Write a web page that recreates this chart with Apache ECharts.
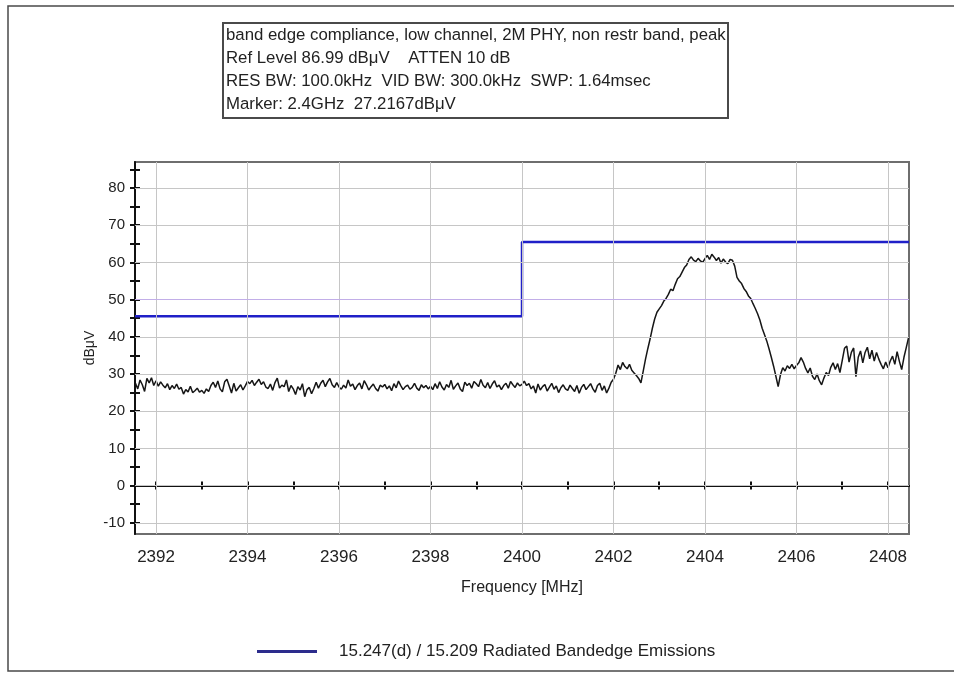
<!DOCTYPE html>
<html>
<head>
<meta charset="utf-8">
<script src="https://cdn.jsdelivr.net/npm/echarts@6/dist/echarts.min.js"></script>
<style>
html,body{margin:0;padding:0;background:#fff;}
#chart{width:954px;height:675px;}
</style>
</head>
<body>
<div id="chart"></div>
<script>
// ---- data ----
var headerLines = [
  'band edge compliance, low channel, 2M PHY, non restr band, peak',
  'Ref Level 86.99 dB\u03bcV    ATTEN 10 dB',
  'RES BW: 100.0kHz  VID BW: 300.0kHz  SWP: 1.64msec',
  'Marker: 2.4GHz  27.2167dB\u03bcV'
];
var xMin = 2391.54, xMax = 2408.46;
var yMin = -13.01, yMax = 86.99;
var xTickLabels = [2392, 2394, 2396, 2398, 2400, 2402, 2404, 2406, 2408];
var xMinorTicks = [2392, 2393, 2394, 2395, 2396, 2397, 2398, 2399, 2400, 2401, 2402, 2403, 2404, 2405, 2406, 2407, 2408];
var yTickLabels = [-10, 0, 10, 20, 30, 40, 50, 60, 70, 80];
var yTicks = [-10, -5, 0, 5, 10, 15, 20, 25, 30, 35, 40, 45, 50, 55, 60, 65, 70, 75, 80, 85];

var limitName = '15.247(d) / 15.209 Radiated Bandedge Emissions';
var limitFreq = [2391.54, 2400, 2400, 2408.46];
var limitDb = [45.5, 45.5, 65.5, 65.5];
var refLine50 = 50;

var traceStart = 2391.55, traceStep = 0.05;
var traceDb = [
  27.5, 26.0, 28.4, 27.1, 25.3, 28.8, 27.6, 29.0, 26.9,
  28.2, 26.7, 27.9, 27.0, 26.3, 27.4, 25.8, 26.9, 26.1, 27.3, 25.9, 26.4, 24.6, 25.8, 25.2, 26.7, 25.0, 25.5, 26.2, 25.1,
  25.6, 24.8, 26.0, 25.3, 26.9, 27.8, 26.4, 28.1, 26.0, 25.2, 27.9, 28.6, 26.8, 24.9, 27.5, 25.4, 26.3, 27.1, 25.7, 26.8,
  28.0, 27.4, 28.3, 26.9, 27.8, 28.6, 27.2, 27.9, 26.5, 26.1, 27.3, 25.6, 27.7, 28.9, 26.2, 27.0, 26.6, 28.4, 25.3, 26.9,
  26.0, 24.5, 26.6, 25.7, 27.4, 23.9, 25.8, 26.4, 24.7, 26.1, 27.8, 26.2, 27.5, 28.3, 26.6, 27.9, 28.8, 27.1, 26.4, 27.7,
  26.5, 25.9, 27.0, 26.2, 28.4, 26.7, 27.3, 25.8, 26.9, 27.6, 26.0, 28.2, 27.1, 25.7, 26.6, 27.3, 26.1, 25.4, 27.0, 26.5,
  27.2, 26.0, 26.8, 25.5, 27.4, 26.3, 28.1, 26.9, 25.8, 26.6, 27.0, 25.9, 26.4, 27.5, 26.2, 25.6, 27.1, 26.3, 26.9, 26.0,
  26.7, 25.8, 27.4, 26.1, 27.9, 26.5, 25.7, 27.2, 26.4, 28.3, 25.9, 26.8, 27.6, 26.0, 25.3, 27.8, 26.9, 27.5, 26.2, 28.0,
  27.4, 26.6, 28.5, 27.0, 26.3, 27.7, 26.1, 27.3, 28.2, 26.5, 27.0, 25.8, 26.9, 27.5, 26.2, 28.0, 27.1, 26.4, 27.6, 26.8,
  27.2, 28.1, 26.9, 27.4, 26.0, 26.8, 24.9, 27.3, 25.7, 26.6, 27.2, 25.4, 26.5, 27.5, 25.9, 26.8, 25.0, 26.3, 27.1, 26.0,
  25.6, 27.0, 26.1, 25.3, 26.9, 24.8, 26.4, 27.2, 25.8, 26.6, 27.4, 26.0, 25.1, 26.9, 27.5, 25.6, 26.8, 24.9, 26.2, 27.8,
  28.6, 30.2, 32.4, 31.2, 33.1, 32.0, 31.4, 32.6, 31.0, 30.3, 29.6, 28.8, 27.6, 30.8, 34.0, 36.8, 39.4, 42.3, 44.8, 46.6,
  47.5, 48.4, 49.6, 50.3, 51.4, 52.8, 52.4, 54.1, 55.6, 56.2, 57.4, 58.6, 59.3, 60.8, 61.5, 60.6, 60.2, 61.1, 60.4, 60.0,
  61.0, 61.9, 60.8, 62.2, 61.4, 60.5, 61.3, 59.8, 60.9, 60.1, 59.7, 60.8, 60.6, 59.0, 56.0, 55.0, 54.3, 53.0, 52.2, 51.0,
  50.3, 48.9, 47.6, 46.2, 44.5, 42.3, 40.6, 38.9, 36.8, 34.5, 32.1, 29.4, 26.6, 29.8, 31.7, 30.8, 32.2, 31.5, 32.6, 31.4,
  32.3, 33.0, 34.4, 33.2, 31.5, 30.3, 31.6, 29.4, 28.5, 30.0, 28.2, 27.1, 28.9, 30.4, 29.6, 31.8, 33.0, 31.2, 32.8, 30.4,
  33.6, 36.9, 37.5, 33.2, 35.8, 37.0, 29.3, 34.5, 36.2, 33.0, 35.8, 37.2, 34.1, 36.4, 33.5, 35.8, 34.0, 32.6, 31.4, 33.2,
  31.7, 33.5, 34.8, 32.6, 36.0, 33.4, 31.2, 34.5, 37.1, 39.8
];

// ---- build ----
var traceData = traceDb.map(function (v, i) { return [+(traceStart + i * traceStep).toFixed(3), v]; });
var limitData = limitFreq.map(function (f, i) { return [f, limitDb[i]]; });
var gridMarks = [];
yTickLabels.forEach(function (v) { gridMarks.push({ yAxis: v }); });
xTickLabels.forEach(function (v) { gridMarks.push({ xAxis: v }); });

var FONT = '"Liberation Sans", Arial, sans-serif';
var chart = echarts.init(document.getElementById('chart'), null, { renderer: 'canvas' });

var baseX = { type: 'value', min: xMin, max: xMax, gridIndex: 0, splitLine: { show: false } };
var baseY = { type: 'value', min: yMin, max: yMax, gridIndex: 0, splitLine: { show: false } };

chart.setOption({
  animation: false,
  backgroundColor: '#ffffff',
  textStyle: { fontFamily: FONT },
  grid: { left: 135, right: 45, top: 162, bottom: 141, show: true, backgroundColor: 'transparent', borderColor: '#6e6e6e', borderWidth: 2 },
  graphic: [
    { type: 'rect', z: -10, shape: { x: 8, y: 6, width: 960, height: 665 }, style: { fill: 'none', stroke: '#4a4a4a', lineWidth: 1.5 } },
    { type: 'rect', shape: { x: 223, y: 23, width: 505, height: 95 }, style: { fill: '#ffffff', stroke: '#4a4a4a', lineWidth: 2 } },
    { type: 'text', x: 226, y: 24, style: { text: headerLines.join('\n'), font: '16.8px ' + FONT, fill: '#222', lineHeight: 23, verticalAlign: 'top' } }
  ],
  legend: {
    data: [limitName], left: 252, top: 638, itemWidth: 60, itemHeight: 3, icon: 'rect',
    itemStyle: { color: '#2c2c8c' },
    textStyle: { fontSize: 17, color: '#222', fontFamily: FONT, padding: [0, 0, 0, 17] }
  },
  xAxis: [
    Object.assign({}, baseX, {
      position: 'bottom', name: 'Frequency [MHz]', nameLocation: 'middle', nameGap: 46,
      nameTextStyle: { fontSize: 16, color: '#222', fontFamily: FONT },
      axisLine: { show: false, onZero: false },
      axisTick: { show: false },
      axisLabel: { customValues: xTickLabels, fontSize: 17, color: '#222', margin: 15, fontFamily: FONT,
        formatter: function (v) { return String(Math.round(v)); } }
    }),
    Object.assign({}, baseX, {
      axisLine: { show: true, onZero: true, onZeroAxisIndex: 0, lineStyle: { color: '#111', width: 2 } },
      axisTick: { show: true, customValues: xMinorTicks, length: 4, inside: false, lineStyle: { color: '#111', width: 2 } },
      axisLabel: { show: false }
    }),
    Object.assign({}, baseX, {
      axisLine: { show: true, onZero: true, onZeroAxisIndex: 0, lineStyle: { color: '#111', width: 2 } },
      axisTick: { show: true, customValues: xMinorTicks, length: 4, inside: true, lineStyle: { color: '#111', width: 2 } },
      axisLabel: { show: false }
    })
  ],
  yAxis: [
    Object.assign({}, baseY, {
      position: 'left', name: 'dB\u03bcV', nameLocation: 'middle', nameGap: 38, nameMoveOverlap: false,
      nameTextStyle: { fontSize: 14, color: '#222', fontFamily: FONT },
      axisLine: { show: true, onZero: false, lineStyle: { color: '#111', width: 2 } },
      axisTick: { show: true, customValues: yTicks, length: 5, lineStyle: { color: '#111', width: 2 } },
      axisLabel: { customValues: yTickLabels, fontSize: 15, color: '#222', margin: 10, fontFamily: FONT }
    }),
    Object.assign({}, baseY, {
      position: 'left',
      axisLine: { show: false, onZero: false },
      axisTick: { show: true, customValues: yTicks, length: 5, inside: true, lineStyle: { color: '#111', width: 2 } },
      axisLabel: { show: false }
    })
  ],
  series: [
    {
      name: 'gridlines', type: 'line', data: [], z: -1, silent: true,
      xAxisIndex: 0, yAxisIndex: 0,
      markLine: {
        silent: true, symbol: 'none', label: { show: false },
        lineStyle: { color: '#c6c6c6', width: 1, type: 'solid' },
        data: gridMarks.concat([{ yAxis: refLine50, lineStyle: { color: '#c2aee8', width: 1, type: 'solid' } }])
      }
    },
    {
      name: 'trace', type: 'line', data: traceData, xAxisIndex: 0, yAxisIndex: 0,
      symbol: 'none', z: 3, lineStyle: { color: '#161616', width: 1.5 }
    },
    {
      name: limitName, type: 'line', data: limitData, xAxisIndex: 0, yAxisIndex: 0,
      symbol: 'none', z: 4, lineStyle: { color: '#2020c8', width: 2.5 }, itemStyle: { color: '#2c2c8c' }
    }
  ]
});
</script>
</body>
</html>
